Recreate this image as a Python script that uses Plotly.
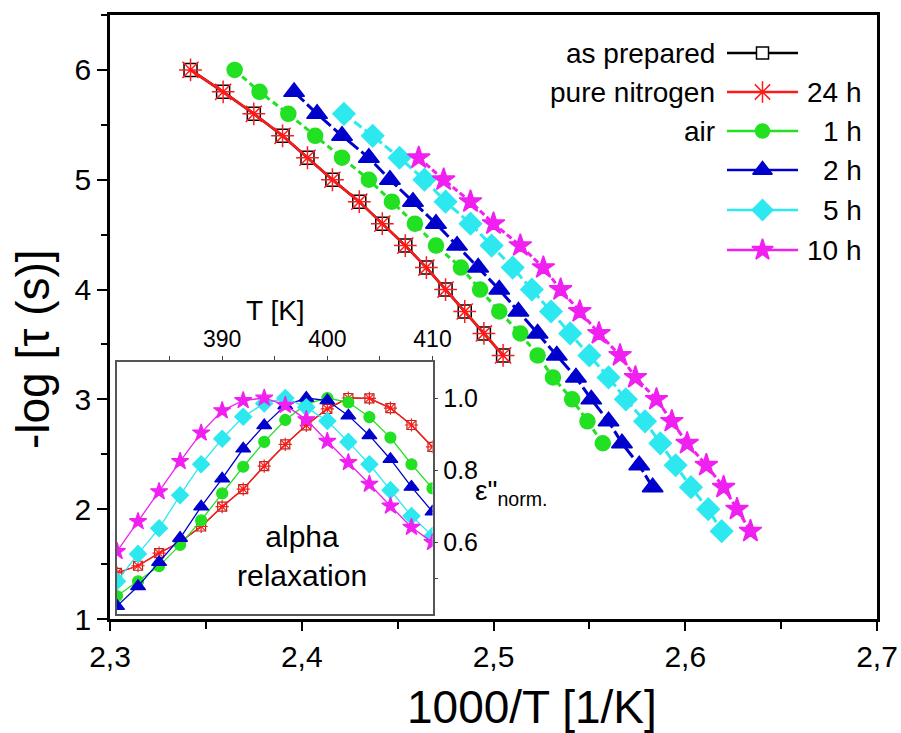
import plotly.graph_objects as go

# ---------------- main panel: -log(tau) vs 1000/T ----------------
x_prep = [2.342, 2.359, 2.375, 2.390, 2.403, 2.416, 2.430, 2.442, 2.454, 2.465, 2.475, 2.485, 2.495, 2.505]
y_prep = [6.0, 5.8, 5.6, 5.4, 5.2, 5.0, 4.8, 4.6, 4.4, 4.2, 4.0, 3.8, 3.6, 3.4]

x_n2_24h = [2.342, 2.359, 2.375, 2.390, 2.403, 2.416, 2.430, 2.442, 2.454, 2.465, 2.475, 2.485, 2.495, 2.505]
y_n2_24h = [6.0, 5.8, 5.6, 5.4, 5.2, 5.0, 4.8, 4.6, 4.4, 4.2, 4.0, 3.8, 3.6, 3.4]

x_air_1h = [2.365, 2.378, 2.393, 2.407, 2.421, 2.435, 2.447, 2.459, 2.470, 2.483, 2.493, 2.503,
            2.514, 2.523, 2.531, 2.541, 2.549, 2.557]
y_air_1h = [6.0, 5.8, 5.6, 5.4, 5.2, 5.0, 4.8, 4.6, 4.4, 4.2, 4.0, 3.8, 3.6, 3.4, 3.2, 3.0, 2.8, 2.6]

x_air_2h = [2.396, 2.408, 2.421, 2.435, 2.446, 2.458, 2.470, 2.481, 2.492, 2.503, 2.513, 2.523,
            2.533, 2.543, 2.551, 2.560, 2.567, 2.576, 2.583]
y_air_2h = [5.8, 5.6, 5.4, 5.2, 5.0, 4.8, 4.6, 4.4, 4.2, 4.0, 3.8, 3.6, 3.4, 3.2, 3.0, 2.8, 2.6, 2.4, 2.2]

x_air_5h = [2.422, 2.437, 2.451, 2.464, 2.475, 2.488, 2.499, 2.510, 2.520, 2.530, 2.540, 2.550,
            2.560, 2.569, 2.579, 2.587, 2.595, 2.603, 2.612, 2.619]
y_air_5h = [5.6, 5.4, 5.2, 5.0, 4.8, 4.6, 4.4, 4.2, 4.0, 3.8, 3.6, 3.4, 3.2, 3.0, 2.8, 2.6, 2.4,
            2.2, 2.0, 1.8]

x_air_10h = [2.461, 2.474, 2.488, 2.500, 2.514, 2.526, 2.535, 2.545, 2.555, 2.566, 2.574, 2.585,
             2.593, 2.601, 2.611, 2.620, 2.627, 2.634]
y_air_10h = [5.2, 5.0, 4.8, 4.6, 4.4, 4.2, 4.0, 3.8, 3.6, 3.4, 3.2, 3.0, 2.8, 2.6, 2.4, 2.2, 2.0, 1.8]

# ---------------- inset: normalised loss peak vs T ----------------
T_inset = [380, 382, 384, 386, 388, 390, 392, 394, 396, 398, 400, 402, 404, 406, 408, 410]
eps_prep = [0.514, 0.534, 0.569, 0.600, 0.643, 0.698, 0.747, 0.811, 0.871, 0.924, 0.970, 1.000,
            0.999, 0.972, 0.925, 0.864]
eps_n2_24h = [0.514, 0.534, 0.569, 0.600, 0.643, 0.698, 0.747, 0.811, 0.871, 0.924, 0.970, 1.000,
              0.999, 0.972, 0.925, 0.864]
eps_air_1h = [0.450, 0.491, 0.533, 0.592, 0.660, 0.735, 0.809, 0.878, 0.939, 0.983, 1.000, 0.988,
              0.947, 0.890, 0.816, 0.749]
eps_air_2h = [0.422, 0.477, 0.544, 0.611, 0.698, 0.776, 0.859, 0.924, 0.979, 1.000, 0.993, 0.951,
              0.896, 0.830, 0.753, 0.684]
eps_air_5h = [0.491, 0.567, 0.638, 0.730, 0.816, 0.887, 0.948, 0.985, 1.000, 0.974, 0.936, 0.878,
              0.816, 0.744, 0.672, 0.617]
eps_air_10h = [0.574, 0.657, 0.740, 0.824, 0.903, 0.965, 0.993, 1.000, 0.980, 0.940, 0.880, 0.821,
               0.761, 0.700, 0.641, 0.599]

inset_T_tickvals = [390, 400, 410]
inset_T_minor = [385, 395, 405]
inset_eps_tickvals = [0.6, 0.8, 1.0]
inset_eps_ticktext = ["0.6", "0.8", "1.0"]
inset_eps_minor = [0.5]

# ---------------- legend rows ----------------
legend_left_text = ["as prepared", "pure nitrogen", "air", "", "", ""]
legend_right_text = ["", "24 h", "1 h", "2 h", "5 h", "10 h"]

# ---------------- geometry / style ----------------
W, H = 901, 733
ML, MR, MT, MB = 110, 24, 15, 114
PW = W - ML - MR
PH = H - MT - MB
FONT = "Liberation Sans, Arial, sans-serif"


def px(x):
    return (x - ML) / PW


def py(y):
    return (H - MB - y) / PH


BLACK = "#000000"
RED = "#FF1A1A"
GREEN = "#22E022"
BLUE = "#0000CD"
CYAN = "#2EE8F0"
MAGENTA = "#F020F0"

styles = [
    dict(color=BLACK, dash="solid", symbol="square-open", size=13, isize=9, mline=BLACK, lw=2.5),
    dict(color=RED, dash="solid", symbol="asterisk-open", size=19, isize=11, mline=RED, lw=2.5),
    dict(color=GREEN, dash="6px,4px", symbol="circle", size=15, isize=11, mline=GREEN, lw=3),
    dict(color=BLUE, dash="14px,4px", symbol="triangle-up", size=18, isize=13, mline=BLUE, lw=3),
    dict(color=CYAN, dash="9px,4px", symbol="diamond", size=17, isize=13, mline=CYAN, lw=3),
    dict(color=MAGENTA, dash="6px,3px", symbol="star", size=17, isize=13, mline=MAGENTA, lw=3),
]

main_series = [
    (x_prep, y_prep),
    (x_n2_24h, y_n2_24h),
    (x_air_1h, y_air_1h),
    (x_air_2h, y_air_2h),
    (x_air_5h, y_air_5h),
    (x_air_10h, y_air_10h),
]
inset_series = [eps_prep, eps_n2_24h, eps_air_1h, eps_air_2h, eps_air_5h, eps_air_10h]

fig = go.Figure()

# main curves
for (xs, ys), st in zip(main_series, styles):
    fig.add_trace(go.Scatter(
        x=xs, y=ys, mode="lines+markers", xaxis="x", yaxis="y", showlegend=False,
        line=dict(color=st["color"], width=st["lw"], dash=st["dash"]),
        marker=dict(symbol=st["symbol"], size=st["size"], color=st["mline"],
                    line=dict(color=st["mline"], width=1.5)),
    ))

# inset curves
for ys, st in zip(inset_series, styles):
    col = "#A03020" if st["color"] == BLACK else st["color"]
    fig.add_trace(go.Scatter(
        x=T_inset, y=ys, mode="lines+markers", xaxis="x2", yaxis="y2", showlegend=False,
        line=dict(color=col, width=1.3),
        marker=dict(symbol=st["symbol"], size=st["isize"], color=col,
                    line=dict(color=col, width=1.2)),
    ))

# legend keys drawn on a pixel-coordinate overlay of the main axes
row_y = [53, 92, 131, 170, 210, 250]
key_x0, key_x1 = 727, 798
for ry, st in zip(row_y, styles):
    fig.add_trace(go.Scatter(
        x=[key_x0, key_x1], y=[ry, ry], mode="lines", xaxis="x3", yaxis="y3",
        showlegend=False, line=dict(color=st["color"], width=2.5), hoverinfo="skip",
    ))
    sym = "square" if st["color"] == BLACK else st["symbol"]
    fig.add_trace(go.Scatter(
        x=[(key_x0 + key_x1) / 2], y=[ry], mode="markers", xaxis="x3", yaxis="y3",
        showlegend=False, hoverinfo="skip",
        marker=dict(symbol=sym, size=st["size"] - 1,
                    color="white" if st["color"] == BLACK else st["mline"],
                    line=dict(color=st["mline"], width=1.5)),
    ))

annotations = []
for ry, lt, rt in zip(row_y, legend_left_text, legend_right_text):
    if lt:
        annotations.append(dict(x=717, y=ry, xref="x3", yref="y3", text=lt, showarrow=False,
                                xanchor="right", yanchor="middle", font=dict(size=28)))
    if rt:
        annotations.append(dict(x=864, y=ry, xref="x3", yref="y3", text=rt, showarrow=False,
                                xanchor="right", yanchor="middle", font=dict(size=28)))

# axis titles and inset labels
annotations += [
    dict(x=px(532), y=py(707), xref="paper", yref="paper", text="1000/T [1/K]", showarrow=False,
         xanchor="center", yanchor="middle", font=dict(size=46)),
    dict(x=px(33), y=py(349), xref="paper", yref="paper", text="-log [τ (s)]", showarrow=False,
         textangle=-90, xanchor="center", yanchor="middle", font=dict(size=46)),
    dict(x=px(275), y=py(310), xref="paper", yref="paper", text="T [K]", showarrow=False,
         xanchor="center", yanchor="middle", font=dict(size=28)),
    dict(x=px(473), y=py(492), xref="paper", yref="paper", text="ε\"<sub>norm.</sub>",
         showarrow=False, xanchor="left", yanchor="middle", font=dict(size=28)),
    dict(x=px(302), y=py(556), xref="paper", yref="paper", text="alpha<br>relaxation",
         showarrow=False, xanchor="center", yanchor="middle", font=dict(size=30)),
]

fig.update_layout(
    width=W, height=H, template="none",
    margin=dict(l=ML, r=MR, t=MT, b=MB, pad=0, autoexpand=False),
    paper_bgcolor="white", plot_bgcolor="white",
    font=dict(family=FONT, color="black"),
    separators=", ",
    showlegend=False,
    annotations=annotations,
    xaxis=dict(
        domain=[0, 1], range=[2.3, 2.7], anchor="y", automargin=False,
        tickmode="linear", tick0=2.3, dtick=0.1, tickformat=".1f",
        ticks="outside", ticklen=9, tickwidth=2, tickcolor="black",
        minor=dict(dtick=0.05, tick0=2.3, ticks="outside", ticklen=7, tickwidth=2, tickcolor="black",
                   showgrid=False),
        showline=True, linewidth=2.5, linecolor="black", mirror=True,
        showgrid=False, zeroline=False, tickfont=dict(size=30, color="black"),
    ),
    yaxis=dict(
        domain=[0, 1], range=[1, 6.5], anchor="x", automargin=False,
        tickmode="linear", tick0=1, dtick=1,
        ticks="outside", ticklen=10, tickwidth=2, tickcolor="black",
        minor=dict(dtick=0.5, tick0=1, ticks="outside", ticklen=6, tickwidth=2, tickcolor="black",
                   showgrid=False),
        showline=True, linewidth=2.5, linecolor="black", mirror=True,
        showgrid=False, zeroline=False, tickfont=dict(size=30, color="black"),
    ),
    xaxis2=dict(
        domain=[px(117), px(432.5)], range=[380, 410], anchor="y2", side="top", automargin=False,
        tickmode="array", tickvals=inset_T_tickvals,
        ticks="outside", ticklen=4, tickwidth=1, tickcolor="#444",
        minor=dict(tickmode="array", tickvals=inset_T_minor, ticks="outside", ticklen=4,
                   tickwidth=1, tickcolor="#444", showgrid=False),
        showline=True, linewidth=1.5, linecolor="#555", mirror=True,
        showgrid=False, zeroline=False, tickfont=dict(size=23, color="black"),
    ),
    yaxis2=dict(
        domain=[py(614), py(362)], range=[0.4, 1.1], anchor="x2", side="right", automargin=False,
        tickmode="array", tickvals=inset_eps_tickvals, ticktext=inset_eps_ticktext,
        ticks="outside", ticklen=4, tickwidth=1, tickcolor="#444",
        minor=dict(tickmode="array", tickvals=inset_eps_minor, ticks="outside", ticklen=4,
                   tickwidth=1, tickcolor="#444", showgrid=False),
        showline=True, linewidth=1.5, linecolor="#555", mirror=True,
        showgrid=False, zeroline=False, tickfont=dict(size=25, color="black"),
    ),
    xaxis3=dict(range=[ML, W - MR], overlaying="x", anchor="y3", visible=False,
                showgrid=False, automargin=False),
    yaxis3=dict(range=[H - MB, MT], overlaying="y", anchor="x3", visible=False,
                showgrid=False, automargin=False),
)

fig.write_html("out.html")
